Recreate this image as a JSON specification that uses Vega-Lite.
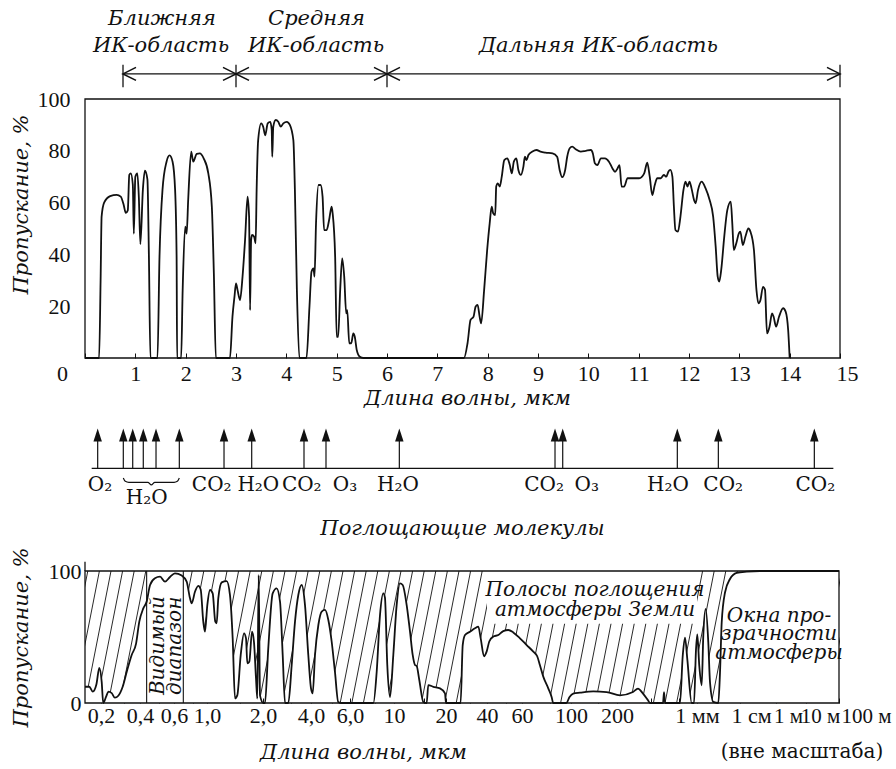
{
  "$schema": "https://vega.github.io/schema/vega-lite/v6.json",
  "autosize": {"type": "none"},
  "padding": {"left": 85, "top": 99, "right": 56, "bottom": 66},
  "background": "white",
  "width": 755,
  "height": 604,
  "config": {
    "font": "DejaVu Serif",
    "view": {"stroke": null},
    "axis": {
      "labelFont": "Liberation Serif", "labelFontSize": 22, "labelColor": "#111",
      "titleFont": "DejaVu Serif", "titleFontSize": 21, "titleFontStyle": "italic",
      "titleFontWeight": "normal", "titleColor": "#111", "grid": false, "domain": false,
      "tickColor": "#111", "labelFlush": false
    },
    "text": {"font": "DejaVu Serif", "fontSize": 20, "color": "#111"}
  },
  "resolve": {"scale": {"x": "independent", "y": "independent"}, "axis": {"x": "independent", "y": "independent"}},
  "layer": [
    {
      "layer": [
        {
          "data": {"values": [
            {"w":0,"t":0},{"w":0.28,"t":0},{"w":0.31,"t":30},{"w":0.33,"t":54.6},{"w":0.38,"t":60},{"w":0.5,"t":62.5},{"w":0.63,"t":63},{"w":0.71,"t":62.3},{"w":0.77,"t":59},{"w":0.81,"t":56},{"w":0.85,"t":57},{"w":0.88,"t":70.7},{"w":0.91,"t":71.3},{"w":0.95,"t":67},{"w":0.97,"t":48},{"w":1.0,"t":70},{"w":1.04,"t":71.3},{"w":1.07,"t":62},{"w":1.1,"t":44},{"w":1.15,"t":65},{"w":1.19,"t":72.3},{"w":1.24,"t":69},{"w":1.27,"t":39},{"w":1.3,"t":0},
            {"w":1.44,"t":0},{"w":1.48,"t":39},{"w":1.54,"t":65},{"w":1.62,"t":75.8},{"w":1.68,"t":78.2},{"w":1.74,"t":75.8},{"w":1.79,"t":65},{"w":1.82,"t":39},{"w":1.83,"t":0},
            {"w":1.91,"t":0},{"w":1.94,"t":26},{"w":1.99,"t":50.7},{"w":2.02,"t":48},{"w":2.05,"t":61},{"w":2.11,"t":79.7},{"w":2.15,"t":75.8},{"w":2.22,"t":78.8},{"w":2.28,"t":79},{"w":2.36,"t":77},{"w":2.45,"t":71.3},{"w":2.52,"t":58.4},{"w":2.56,"t":32.7},{"w":2.6,"t":0},
            {"w":2.88,"t":0},{"w":2.93,"t":16},{"w":2.97,"t":23.7},{"w":3.0,"t":28.8},{"w":3.03,"t":26.3},{"w":3.08,"t":22.4},{"w":3.13,"t":31.4},{"w":3.18,"t":45.6},{"w":3.23,"t":62.3},{"w":3.26,"t":54.6},{"w":3.28,"t":18.5},{"w":3.3,"t":45.6},{"w":3.32,"t":47.5},{"w":3.36,"t":46.8},{"w":3.39,"t":44.3},{"w":3.41,"t":65},{"w":3.44,"t":84},{"w":3.5,"t":90.6},{"w":3.54,"t":89.3},{"w":3.58,"t":86},{"w":3.63,"t":90.6},{"w":3.68,"t":91.2},{"w":3.71,"t":88},{"w":3.72,"t":77.7},{"w":3.74,"t":89.3},{"w":3.79,"t":91.9},{"w":3.84,"t":91.2},{"w":3.89,"t":89.3},{"w":3.94,"t":90.6},{"w":4.01,"t":91.2},{"w":4.07,"t":90},{"w":4.14,"t":84},{"w":4.17,"t":65},{"w":4.21,"t":26},{"w":4.26,"t":0},
            {"w":4.4,"t":0},{"w":4.46,"t":20},{"w":4.5,"t":33.3},{"w":4.54,"t":34.6},{"w":4.56,"t":31.4},{"w":4.59,"t":52},{"w":4.64,"t":66.8},{"w":4.68,"t":66.8},{"w":4.72,"t":62.3},{"w":4.75,"t":49.4},{"w":4.8,"t":49.4},{"w":4.85,"t":53.3},{"w":4.9,"t":58.4},{"w":4.92,"t":55.9},{"w":4.97,"t":39},{"w":5.0,"t":8.2},{"w":5.03,"t":8.2},{"w":5.07,"t":26.3},{"w":5.11,"t":38.5},{"w":5.15,"t":31.4},{"w":5.19,"t":17.2},{"w":5.21,"t":18.5},{"w":5.25,"t":5.7},{"w":5.29,"t":5.7},{"w":5.33,"t":9.5},{"w":5.36,"t":8.2},{"w":5.4,"t":3},{"w":5.46,"t":0.5},{"w":5.53,"t":0},
            {"w":7.53,"t":0},{"w":7.6,"t":5.7},{"w":7.66,"t":14.7},{"w":7.72,"t":16},{"w":7.76,"t":19.8},{"w":7.8,"t":20.5},{"w":7.84,"t":16},{"w":7.87,"t":13.4},{"w":7.93,"t":26.3},{"w":7.99,"t":41.7},{"w":8.04,"t":52},{"w":8.08,"t":58.4},{"w":8.11,"t":55.9},{"w":8.15,"t":55.2},{"w":8.17,"t":66.2},{"w":8.2,"t":67.4},{"w":8.24,"t":66.2},{"w":8.28,"t":70},{"w":8.33,"t":76.4},{"w":8.39,"t":77.1},{"w":8.44,"t":74.5},{"w":8.48,"t":71.3},{"w":8.52,"t":75.8},{"w":8.57,"t":77.1},{"w":8.61,"t":72.6},{"w":8.66,"t":70.7},{"w":8.71,"t":73.9},{"w":8.74,"t":77.7},{"w":8.77,"t":76.4},{"w":8.81,"t":78.4},{"w":8.89,"t":79.7},{"w":8.97,"t":80.3},{"w":9.05,"t":79.7},{"w":9.15,"t":79.3},{"w":9.29,"t":79},{"w":9.38,"t":77.7},{"w":9.43,"t":72.6},{"w":9.48,"t":69.8},{"w":9.54,"t":72.6},{"w":9.58,"t":77.7},{"w":9.63,"t":81},{"w":9.68,"t":81.6},{"w":9.75,"t":80.6},{"w":9.85,"t":79.7},{"w":9.95,"t":80},{"w":10.05,"t":80.3},{"w":10.09,"t":79},{"w":10.13,"t":75.2},{"w":10.18,"t":74.5},{"w":10.25,"t":77.1},{"w":10.33,"t":77.1},{"w":10.41,"t":75.8},{"w":10.48,"t":73.2},{"w":10.53,"t":71.9},{"w":10.58,"t":73.2},{"w":10.62,"t":74.5},{"w":10.66,"t":66.2},{"w":10.71,"t":66.2},{"w":10.78,"t":69.4},{"w":10.88,"t":69.4},{"w":11.01,"t":69.4},{"w":11.11,"t":71.3},{"w":11.17,"t":75.4},{"w":11.22,"t":70},{"w":11.27,"t":62.9},{"w":11.32,"t":66.8},{"w":11.37,"t":69.4},{"w":11.44,"t":69.4},{"w":11.5,"t":70.7},{"w":11.55,"t":70},{"w":11.59,"t":71.9},{"w":11.63,"t":72.6},{"w":11.67,"t":70},{"w":11.7,"t":58.4},{"w":11.73,"t":49.4},{"w":11.78,"t":48.8},{"w":11.83,"t":54.6},{"w":11.89,"t":64.9},{"w":11.93,"t":68.1},{"w":11.97,"t":66.2},{"w":12.01,"t":68.1},{"w":12.05,"t":65.5},{"w":12.1,"t":61},{"w":12.13,"t":59.7},{"w":12.18,"t":64.9},{"w":12.25,"t":68.1},{"w":12.33,"t":65.5},{"w":12.41,"t":61},{"w":12.48,"t":54.6},{"w":12.53,"t":43},{"w":12.57,"t":31.4},{"w":12.6,"t":29.5},{"w":12.64,"t":34},{"w":12.7,"t":46.8},{"w":12.76,"t":57},{"w":12.83,"t":60.4},{"w":12.86,"t":52},{"w":12.89,"t":41.7},{"w":12.94,"t":44.3},{"w":12.99,"t":48.1},{"w":13.02,"t":48.8},{"w":13.07,"t":43.6},{"w":13.12,"t":46.8},{"w":13.18,"t":50},{"w":13.22,"t":48.8},{"w":13.29,"t":41.7},{"w":13.34,"t":26.3},{"w":13.38,"t":21.1},{"w":13.42,"t":22.4},{"w":13.47,"t":27.5},{"w":13.51,"t":26.3},{"w":13.55,"t":9.5},{"w":13.6,"t":12.1},{"w":13.65,"t":17.2},{"w":13.68,"t":16},{"w":13.73,"t":12.1},{"w":13.79,"t":16},{"w":13.87,"t":19.2},{"w":13.92,"t":17.9},{"w":13.97,"t":10.8},{"w":14.0,"t":0}
          ]},
          "mark": {"type": "line", "interpolate": "monotone", "color": "#111", "strokeWidth": 1.8},
          "encoding": {
            "x": {"field": "w", "type": "quantitative",
              "scale": {"domain": [0, 15], "nice": false, "zero": false},
              "axis": {"orient": "bottom", "offset": -345, "values": [0,1,2,3,4,5,6,7,8,9,10,11,12,13,14,15], "tickSize": -5, "labelPadding": 10,
                "labelFlush": false,
                "labelOffset": {"condition": [{"test": "datum.value === 0", "value": -23}, {"test": "datum.value === 15", "value": 7}], "value": 0},
                "title": "Длина волны, мкм", "titleX": 382, "titleY": 46, "titleBaseline": "alphabetic", "titleAlign": "center"}},
            "y": {"field": "t", "type": "quantitative",
              "scale": {"domain": [0, 100], "range": [259, 0], "nice": false},
              "axis": {"orient": "left", "values": [20,40,60,80,100], "ticks": false, "labelPadding": 15,
                "title": "Пропускание, %", "titleAngle": 270, "titleX": -58, "titleY": 105, "titleBaseline": "alphabetic", "titleAlign": "center"}}
          }
        },
        {
          "data": {"values": [{"a": 0, "b": 15, "c": 0, "d": 100}]},
          "mark": {"type": "rect", "fill": null, "stroke": "#111", "strokeWidth": 1.3},
          "encoding": {"x": {"field": "a", "type": "quantitative"}, "x2": {"field": "b"}, "y": {"field": "c", "type": "quantitative"}, "y2": {"field": "d"}}
        },
        {
          "data": {"values": [{"a": 0.755, "b": 15}]},
          "mark": {"type": "rule", "color": "#111", "strokeWidth": 1.3},
          "encoding": {"x": {"field": "a", "type": "quantitative"}, "x2": {"field": "b"}, "y": {"datum": 109.7, "type": "quantitative"}}
        },
        {
          "data": {"values": [{"a": 0.755}, {"a": 3}, {"a": 6}, {"a": 15}]},
          "mark": {"type": "rule", "color": "#111", "strokeWidth": 1.3},
          "encoding": {"x": {"field": "a", "type": "quantitative"}, "y": {"datum": 104.5, "type": "quantitative"}, "y2": {"datum": 113.2}}
        },
        {
          "data": {"values": [{"a": 0.755}, {"a": 3}, {"a": 6}]},
          "mark": {"type": "point", "shape": "M2,-1L0,0L2,1", "size": 169, "filled": false, "stroke": "#111", "strokeWidth": 1.6, "opacity": 1},
          "encoding": {"x": {"field": "a", "type": "quantitative"}, "y": {"datum": 109.7, "type": "quantitative"}}
        },
        {
          "data": {"values": [{"a": 3}, {"a": 6}, {"a": 15}]},
          "mark": {"type": "point", "shape": "M-2,-1L0,0L-2,1", "size": 169, "filled": false, "stroke": "#111", "strokeWidth": 1.6, "opacity": 1},
          "encoding": {"x": {"field": "a", "type": "quantitative"}, "y": {"datum": 109.7, "type": "quantitative"}}
        },
        {
          "data": {"values": [
            {"s": "Ближняя", "a": 1.53, "b": 128.5},
            {"s": "ИК-область", "a": 1.51, "b": 118.2},
            {"s": "Средняя", "a": 4.6, "b": 128.5},
            {"s": "ИК-область", "a": 4.59, "b": 118.2},
            {"s": "Дальняя ИК-область", "a": 10.2, "b": 118.2}
          ]},
          "mark": {"type": "text", "fontStyle": "italic", "fontSize": 21, "align": "center", "baseline": "alphabetic"},
          "encoding": {"x": {"field": "a", "type": "quantitative"}, "y": {"field": "b", "type": "quantitative"}, "text": {"field": "s"}}
        },
        {
          "data": {"values": [{"a": 0.133, "b": 14.868}]},
          "mark": {"type": "rule", "color": "#111", "strokeWidth": 1.4},
          "encoding": {"x": {"field": "a", "type": "quantitative"}, "x2": {"field": "b"}, "y": {"datum": -42.6, "type": "quantitative"}}
        },
        {
          "data": {"values": [
            {"a": 0.252}, {"a": 0.761}, {"a": 0.948}, {"a": 1.158}, {"a": 1.411}, {"a": 1.874},
            {"a": 2.762}, {"a": 3.312}, {"a": 4.351}, {"a": 4.788}, {"a": 6.245},
            {"a": 9.338}, {"a": 9.491}, {"a": 11.768}, {"a": 12.583}, {"a": 14.49}
          ]},
          "mark": {"type": "rule", "color": "#111", "strokeWidth": 1.2},
          "encoding": {"x": {"field": "a", "type": "quantitative"}, "y": {"datum": -42.6, "type": "quantitative"}, "y2": {"datum": -31}}
        },
        {
          "data": {"values": [
            {"a": 0.252}, {"a": 0.761}, {"a": 0.948}, {"a": 1.158}, {"a": 1.411}, {"a": 1.874},
            {"a": 2.762}, {"a": 3.312}, {"a": 4.351}, {"a": 4.788}, {"a": 6.245},
            {"a": 9.338}, {"a": 9.491}, {"a": 11.768}, {"a": 12.583}, {"a": 14.49}
          ]},
          "mark": {"type": "point", "shape": "M0,0L-0.65,2L0.65,2Z", "size": 169, "filled": true, "color": "#111", "opacity": 1, "strokeWidth": 0},
          "encoding": {"x": {"field": "a", "type": "quantitative"}, "y": {"datum": -27.2, "type": "quantitative"}}
        },
        {
          "data": {"values": [
            {"s": "O₂", "a": 0.298, "b": -51.4},
            {"s": "CO₂", "a": 2.517, "b": -51.4},
            {"s": "H₂O", "a": 3.443, "b": -51.4},
            {"s": "CO₂", "a": 4.306, "b": -51.4},
            {"s": "O₃", "a": 5.166, "b": -51.4},
            {"s": "H₂O", "a": 6.219, "b": -51.4},
            {"s": "CO₂", "a": 9.12, "b": -51.4},
            {"s": "O₃", "a": 9.968, "b": -51.4},
            {"s": "H₂O", "a": 11.58, "b": -51.4},
            {"s": "CO₂", "a": 12.68, "b": -51.4},
            {"s": "CO₂", "a": 14.51, "b": -51.4},
            {"s": "H₂O", "a": 1.226, "b": -56.5}
          ]},
          "mark": {"type": "text", "fontSize": 20, "align": "center", "baseline": "alphabetic"},
          "encoding": {"x": {"field": "a", "type": "quantitative"}, "y": {"field": "b", "type": "quantitative"}, "text": {"field": "s"}}
        },
        {
          "data": {"values": [
            {"a": 0.761, "b": -46.3}, {"a": 0.80, "b": -47.6}, {"a": 0.87, "b": -48.0}, {"a": 1.25, "b": -48.0},
            {"a": 1.318, "b": -49.0}, {"a": 1.386, "b": -48.0}, {"a": 1.77, "b": -48.0}, {"a": 1.835, "b": -47.6}, {"a": 1.874, "b": -46.3}
          ]},
          "mark": {"type": "line", "interpolate": "monotone", "color": "#111", "strokeWidth": 1.2},
          "encoding": {"x": {"field": "a", "type": "quantitative"}, "y": {"field": "b", "type": "quantitative"}}
        },
        {
          "data": {"values": [{"s": "Поглощающие молекулы", "a": 7.5, "b": -68.3}]},
          "mark": {"type": "text", "fontStyle": "italic", "fontSize": 21, "align": "center", "baseline": "alphabetic"},
          "encoding": {"x": {"field": "a", "type": "quantitative"}, "y": {"field": "b", "type": "quantitative"}, "text": {"field": "s"}}
        }
      ]
    },
    {
      "resolve": {"scale": {"x": "independent"}, "axis": {"x": "independent"}},
      "layer": [
        {
          "data": {"values": [
            {"h":-2},{"h":-1},{"h":0},{"h":1},{"h":2},{"h":3},{"h":4},{"h":5},{"h":6},{"h":7},{"h":8},{"h":9},{"h":10},
            {"h":11},{"h":12},{"h":13},{"h":14},{"h":15},{"h":16},{"h":17},{"h":18},{"h":19},{"h":20},{"h":21},{"h":22},
            {"h":23},{"h":24},{"h":25},{"h":26},{"h":27},{"h":28},{"h":29},{"h":30},{"h":31},{"h":32},{"h":33},{"h":34},
            {"h":35},{"h":36},{"h":37},{"h":38},{"h":39},{"h":40},{"h":41},{"h":42},{"h":43},{"h":44},{"h":45},{"h":46},
            {"h":47},{"h":48},{"h":49},{"h":50},{"h":51},{"h":52},{"h":53},{"h":54},{"h":55},{"h":56},{"h":57},{"h":58},
            {"h":59},{"h":60},{"h":61},{"h":62},{"h":63},{"h":64}
          ]},
          "mark": {"type": "rule", "clip": true, "x2Offset": 26, "color": "#111", "strokeWidth": 0.9},
          "encoding": {
            "x": {"field": "h", "type": "quantitative", "scale": {"domain": [0, 65], "range": [0, 754], "nice": false, "zero": false}, "axis": null},
            "x2": {"field": "h"},
            "y": {"datum": 0, "type": "quantitative"},
            "y2": {"datum": 100}
          }
        },
        {
          "layer": [
            {
              "data": {"name": "bottomCurve", "values": [
                {"w":0.15,"t":12.3},{"w":0.162,"t":12.3},{"w":0.1725,"t":8.6},{"w":0.184,"t":14},{"w":0.194,"t":26.5},{"w":0.2025,"t":16},{"w":0.208,"t":0},{"w":0.219,"t":4.8},{"w":0.228,"t":8.6},{"w":0.242,"t":7.5},{"w":0.256,"t":4},{"w":0.272,"t":5.5},{"w":0.294,"t":12.3},{"w":0.316,"t":23.7},{"w":0.345,"t":36.4},{"w":0.373,"t":45},{"w":0.395,"t":61.6},{"w":0.416,"t":71.7},{"w":0.433,"t":76.8},{"w":0.451,"t":89.4},{"w":0.478,"t":94.5},{"w":0.508,"t":95.7},{"w":0.539,"t":91.9},{"w":0.572,"t":95.5},{"w":0.609,"t":98.2},{"w":0.676,"t":96.5},{"w":0.73,"t":91.9},{"w":0.769,"t":79.3},{"w":0.789,"t":75.5},{"w":0.83,"t":84.3},{"w":0.874,"t":88.8},{"w":0.907,"t":86},{"w":0.944,"t":61.6},{"w":0.969,"t":54},{"w":1.004,"t":74.2},{"w":1.038,"t":85.6},{"w":1.073,"t":83},{"w":1.108,"t":61.6},{"w":1.127,"t":60.4},{"w":1.15,"t":79.3},{"w":1.2,"t":91.4},{"w":1.276,"t":92.4},{"w":1.329,"t":81.8},{"w":1.374,"t":49},{"w":1.414,"t":3.5},{"w":1.455,"t":5.8},{"w":1.518,"t":36.4},{"w":1.581,"t":52.8},{"w":1.621,"t":49},{"w":1.647,"t":30.1},{"w":1.688,"t":31.3},{"w":1.746,"t":54},{"w":1.789,"t":46},{"w":1.834,"t":18.7},{"w":1.864,"t":3.3},{"w":1.896,"t":97},{"w":1.927,"t":5.8},{"w":2.009,"t":0},{"w":2.058,"t":0},{"w":2.158,"t":41.4},{"w":2.3,"t":83.1},{"w":2.437,"t":86.9},{"w":2.557,"t":76.8},{"w":2.658,"t":36.4},{"w":2.749,"t":0},{"w":2.883,"t":0},{"w":3.027,"t":28.8},{"w":3.175,"t":61.6},{"w":3.33,"t":81.8},{"w":3.497,"t":89.4},{"w":3.668,"t":74.2},{"w":3.847,"t":36.4},{"w":4.0,"t":11.1},{"w":4.071,"t":7.3},{"w":4.17,"t":36.4},{"w":4.318,"t":59.1},{"w":4.47,"t":69.2},{"w":4.628,"t":70.5},{"w":4.79,"t":62.9},{"w":4.96,"t":46.4},{"w":5.13,"t":23.7},{"w":5.31,"t":0.8},{"w":5.5,"t":0},{"w":7.87,"t":0},{"w":8.18,"t":23.7},{"w":8.5,"t":66.7},{"w":8.83,"t":83.1},{"w":9.0,"t":80},{"w":9.25,"t":28.8},{"w":9.55,"t":4.5},{"w":9.92,"t":36.4},{"w":10.36,"t":74.2},{"w":10.83,"t":90.7},{"w":11.23,"t":89.4},{"w":11.84,"t":74.2},{"w":12.38,"t":54},{"w":12.83,"t":36.4},{"w":13.23,"t":28.8},{"w":13.53,"t":28},{"w":14.01,"t":17.4},{"w":14.78,"t":0.8},{"w":15.46,"t":0},{"w":15.79,"t":13.6},{"w":16.89,"t":12.3},{"w":18.46,"t":11.1},{"w":19.73,"t":7.3},{"w":20,"t":0},{"w":25.6,"t":0},{"w":26.53,"t":43.9},{"w":27.58,"t":51.5},{"w":30,"t":54},{"w":32.66,"t":56.6},{"w":34.52,"t":57.8},{"w":35.96,"t":49},{"w":38.02,"t":35.4},{"w":39.8,"t":39.1},{"w":41.07,"t":46.6},{"w":43,"t":50.3},{"w":45.6,"t":51.5},{"w":48.3,"t":54.5},{"w":51.2,"t":55.3},{"w":54.2,"t":53.5},{"w":58.6,"t":49},{"w":63,"t":43.9},{"w":67.5,"t":38.9},{"w":70.3,"t":35.4},{"w":72.3,"t":28.8},{"w":74.9,"t":20},{"w":78.9,"t":11.1},{"w":81.7,"t":4.6},{"w":83.1,"t":0},{"w":95.2,"t":0},{"w":98.5,"t":4.6},{"w":103.5,"t":7.1},{"w":114.5,"t":7.8},{"w":139.9,"t":8.8},{"w":171.2,"t":8.3},{"w":212.4,"t":5.8},{"w":276,"t":8.3},{"w":305,"t":10.9},{"w":337.5,"t":7.1},{"w":373.2,"t":2.1},{"w":388.6,"t":0},{"w":504.6,"t":0},{"w":515,"t":8.3},{"w":525.6,"t":0},{"w":710.5,"t":0},{"w":750,"t":35.4},{"w":785.8,"t":49.5},{"w":823.1,"t":33},{"w":898.9,"t":0},{"w":941.7,"t":0},{"w":980,"t":40.4},{"w":1016,"t":52},{"w":1131,"t":28},{"w":1286,"t":13.4},{"w":1401,"t":51},{"w":1594,"t":71.2},{"w":1831,"t":46},{"w":2006,"t":15.8},{"w":2394,"t":0.8},{"w":3128,"t":0},{"w":3426,"t":23},{"w":3753,"t":61},{"w":4479,"t":83.7},{"w":5854,"t":93.9},{"w":8379,"t":98.5},{"w":23560,"t":99.5},{"w":129100,"t":100},{"w":100000000,"t":100}
              ]},
              "mark": {"type": "area", "interpolate": "monotone", "fill": "white", "opacity": 1},
              "encoding": {
                "x": {"field": "w", "type": "quantitative",
                  "scale": {"type": "log", "nice": false, "zero": false,
                    "domain": [0.15, 0.2, 0.4, 0.6, 1, 2, 4, 6, 10, 20, 40, 60, 100, 200, 1000, 10000, 1000000, 10000000, 100000000],
                    "range": [0, 16, 55, 89, 122, 178, 226, 265, 309, 361, 402, 437, 486, 532, 612, 655, 691, 721, 754]},
                  "axis": {"orient": "bottom",
                    "values": [0.2,0.3,0.4,0.5,0.6,0.8,1,1.5,2,3,4,5,6,8,10,15,20,30,40,50,60,80,100,150,200,400,500,700,1000,10000,1000000,10000000,100000000],
                    "labelExpr": "datum.value==1000?'1 мм':datum.value==10000?'1 см':datum.value==1000000?'1 м':datum.value==10000000?'10 м':datum.value==100000000?'100 м':indexof([0.2,0.4,0.6,1,2,4,6],datum.value)>=0?replace(format(datum.value,'.1f'),'.',','):indexof([10,20,40,60,100,200],datum.value)>=0?format(datum.value,'d'):''",
                    "labelFontSize": {"condition": {"test": "datum.value >= 1000000", "value": 21}, "value": 22},
                    "labelOffset": {"condition": [
                      {"test": "datum.value == 10000", "value": 11},
                      {"test": "datum.value == 1000000", "value": 12},
                      {"test": "datum.value == 10000000", "value": 14},
                      {"test": "datum.value == 100000000", "value": 27}
                    ], "value": 0},
                    "tickSize": -5, "labelPadding": 7, "labelOverlap": false, "labelFlush": false, "labelBound": false,
                    "title": "Длина волны, мкм", "titleX": 278, "titleY": 55, "titleBaseline": "alphabetic", "titleAlign": "center"}},
                "y": {"field": "t", "type": "quantitative",
                  "scale": {"domain": [0, 100], "range": [604, 472], "nice": false},
                  "axis": {"orient": "left", "values": [0, 100], "ticks": false, "labelPadding": 4,
                    "title": "Пропускание, %", "titleAngle": 270, "titleX": -58, "titleY": 538, "titleBaseline": "alphabetic", "titleAlign": "center"}}
              }
            },
            {
              "data": {"values": [{"a": 0.433, "b": 0.693, "c": 0, "d": 100}, {"a": 40, "b": 1000, "c": 60, "d": 100}]},
              "mark": {"type": "rect", "fill": "white", "opacity": 1},
              "encoding": {"x": {"field": "a", "type": "quantitative"}, "x2": {"field": "b"}, "y": {"field": "c", "type": "quantitative"}, "y2": {"field": "d"}}
            },
            {
              "data": {"values": [{"a": 0.433}, {"a": 0.693}]},
              "mark": {"type": "rule", "color": "#111", "strokeWidth": 1.1},
              "encoding": {"x": {"field": "a", "type": "quantitative"}, "y": {"datum": 0, "type": "quantitative"}, "y2": {"datum": 100}}
            },
            {
              "data": {"name": "bottomCurve"},
              "mark": {"type": "line", "interpolate": "monotone", "color": "#111", "strokeWidth": 1.8},
              "encoding": {"x": {"field": "w", "type": "quantitative"}, "y": {"field": "t", "type": "quantitative"}}
            },
            {
              "data": {"values": [{"a": 0.15, "b": 100000000, "c": 0, "d": 100}]},
              "mark": {"type": "rect", "fill": null, "stroke": "#111", "strokeWidth": 1.3},
              "encoding": {"x": {"field": "a", "type": "quantitative"}, "x2": {"field": "b"}, "y": {"field": "c", "type": "quantitative"}, "y2": {"field": "d"}}
            },
            {
              "data": {"values": [{"a": 0.15}]},
              "mark": {"type": "rule", "color": "#111", "strokeWidth": 1.3},
              "encoding": {"x": {"field": "a", "type": "quantitative"}, "y": {"datum": 100, "type": "quantitative"}, "y2": {"datum": 107}}
            },
            {
              "data": {"values": [
                {"s": "Полосы поглощения", "a": 143.6, "b": 81},
                {"s": "атмосферы Земли", "a": 143.6, "b": 65.9},
                {"s": "Окна про-", "a": 1260000, "b": 61.6},
                {"s": "зрачности", "a": 1260000, "b": 47.7},
                {"s": "атмосферы", "a": 1260000, "b": 33.3}
              ]},
              "mark": {"type": "text", "fontStyle": "italic", "fontSize": 20, "align": "center", "baseline": "alphabetic"},
              "encoding": {"x": {"field": "a", "type": "quantitative"}, "y": {"field": "b", "type": "quantitative"}, "text": {"field": "s"}}
            },
            {
              "data": {"values": [
                {"s": "Видимый", "a": 0.493, "b": 6},
                {"s": "диапазон", "a": 0.614, "b": 6}
              ]},
              "mark": {"type": "text", "fontStyle": "italic", "fontSize": 20, "align": "left", "baseline": "middle", "angle": 270},
              "encoding": {"x": {"field": "a", "type": "quantitative"}, "y": {"field": "b", "type": "quantitative"}, "text": {"field": "s"}}
            },
            {
              "data": {"values": [{"s": "(вне масштаба)", "a": 7360000, "b": -41.7}]},
              "mark": {"type": "text", "fontSize": 20, "align": "center", "baseline": "alphabetic"},
              "encoding": {"x": {"field": "a", "type": "quantitative"}, "y": {"field": "b", "type": "quantitative"}, "text": {"field": "s"}}
            }
          ]
        }
      ]
    }
  ]
}
